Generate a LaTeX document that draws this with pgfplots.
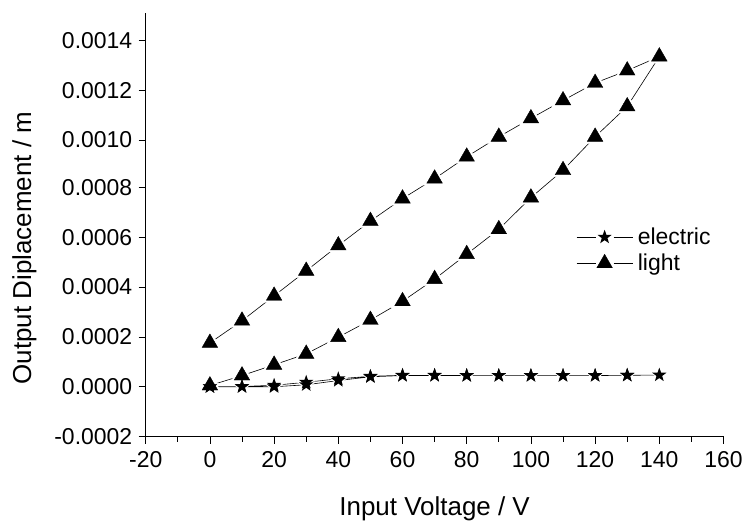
\documentclass[border=0pt]{standalone}
\usepackage{fontspec}
\setmainfont{Liberation Sans}
\usepackage{pgfplots}
\usepackage{pgfplotstable}
\pgfplotsset{compat=1.18}

% filled five-pointed star, as Origin draws it
\pgfdeclareplotmark{fstar}{%
  \pgfpathmoveto{\pgfpointpolar{90}{\pgfplotmarksize}}%
  \pgfpathlineto{\pgfpointpolar{126}{0.4\pgfplotmarksize}}%
  \pgfpathlineto{\pgfpointpolar{162}{\pgfplotmarksize}}%
  \pgfpathlineto{\pgfpointpolar{198}{0.4\pgfplotmarksize}}%
  \pgfpathlineto{\pgfpointpolar{234}{\pgfplotmarksize}}%
  \pgfpathlineto{\pgfpointpolar{270}{0.4\pgfplotmarksize}}%
  \pgfpathlineto{\pgfpointpolar{306}{\pgfplotmarksize}}%
  \pgfpathlineto{\pgfpointpolar{342}{0.4\pgfplotmarksize}}%
  \pgfpathlineto{\pgfpointpolar{18}{\pgfplotmarksize}}%
  \pgfpathlineto{\pgfpointpolar{54}{0.4\pgfplotmarksize}}%
  \pgfpathclose\pgfusepathqfill}

% voltage up to 140 V and back
\pgfplotstableread{
V d
0 0.000000
10 0.000000
20 0.000000
30 0.000008
40 0.000025
50 0.000040
60 0.000045
70 0.000045
80 0.000045
90 0.000045
100 0.000045
110 0.000045
120 0.000045
130 0.000046
140 0.000047
130 0.000046
120 0.000045
110 0.000045
100 0.000045
90 0.000045
80 0.000045
70 0.000046
60 0.000046
50 0.000042
40 0.000032
30 0.000018
20 0.000006
10 0.000001
0 0.000000
}\electric

\pgfplotstableread{
V d
0 0.000005
10 0.000045
20 0.000088
30 0.000132
40 0.000199
50 0.000268
60 0.000343
70 0.000432
80 0.000532
90 0.000632
100 0.000759
110 0.000869
120 0.001003
130 0.001125
140 0.001325
130 0.001269
120 0.001219
110 0.001149
100 0.001077
90 0.001003
80 0.000923
70 0.000835
60 0.000755
50 0.000665
40 0.000567
30 0.000465
20 0.000365
10 0.000265
0 0.000176
}\light

\newcommand\tickfont{\fontsize{23}{26}\selectfont}
\newcommand\labelfont{\fontsize{26}{30}\selectfont}

\begin{document}
\begin{tikzpicture}
\begin{axis}[
  width=579pt, height=424.5pt, scale only axis,
  axis lines=left, axis line style={-, line width=0.9pt},
  xmin=-20, xmax=160, ymin=-0.0002, ymax=0.0015,
  xtick={-20,0,...,160}, minor x tick num=1,
  ytick={-0.0002,0,0.0002,...,0.00141}, minor y tick num=1,
  tick align=outside,
  tick style={black, line width=0.8pt},
  major tick length=7pt, minor tick length=5pt,
  scaled y ticks=false,
  /pgf/number format/assume math mode=true,
  every tick label/.append style={font=\tickfont},
  yticklabel style={xshift=-3pt, /pgf/number format/fixed, /pgf/number format/fixed zerofill, /pgf/number format/precision=4},
  xticklabel style={yshift=-4pt},
  xlabel={Input Voltage / V}, ylabel={Output Diplacement / m},
  xlabel style={font=\labelfont, at={(axis description cs:0.5,-0.17)}, anchor=center},
  ylabel style={font=\labelfont, at={(axis description cs:-0.21,0.445)}, anchor=center},
  legend style={draw=none, fill=none, at={(0.745,0.495)}, anchor=north west, row sep=6pt,
    font=\tickfont, inner sep=0pt, nodes={inner xsep=5pt, inner ysep=1pt}},
  legend cell align=left,
  legend image code/.code={%
    \draw[solid, line width=0.6pt] (0pt,0pt)--(19pt,0pt) (37pt,0pt)--(56pt,0pt);
    \draw plot coordinates {(28pt,0pt)};},
]
% lines first, then white halos round the marks, then the marks
\addplot[black, line width=0.6pt, forget plot] table {\light};
\addplot[only marks, white, mark=triangle*, mark size=13pt, forget plot] table {\light};
\addplot[black, line width=0.6pt, forget plot] table {\electric};
\addplot[only marks, white, mark=fstar, mark size=10.5pt, forget plot] table {\electric};
\addplot[only marks, black, mark=fstar, mark size=7.5pt, mark options={solid}] table {\electric};
\addlegendentry{electric}
\addplot[only marks, black, mark=triangle*, mark size=9pt, mark options={solid}] table {\light};
\addlegendentry{light}
\end{axis}
\path[use as bounding box] (-146pt,-81.5pt) rectangle (600pt,437.5pt);
\end{tikzpicture}
\end{document}
